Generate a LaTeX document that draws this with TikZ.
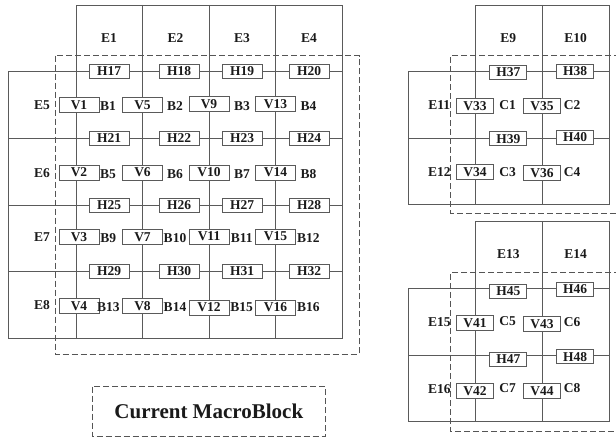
\documentclass[tikz,border=0pt]{standalone}
\usepackage{fontspec}
\setmainfont{Liberation Serif}
\definecolor{gridcol}{HTML}{5A5A5A}
\definecolor{dashcol}{HTML}{555555}
\definecolor{txtcol}{HTML}{1A1A1A}
\tikzset{
  gridline/.style={draw=gridcol, line width=0.9pt},
  dashline/.style={draw=dashcol, line width=0.9pt, dash pattern=on 6pt off 3pt},
  lbl/.style={font=\bfseries\fontsize{13.5}{16}\selectfont, text=txtcol, inner sep=0pt},
  hbox/.style={lbl, draw=gridcol, line width=0.9pt, fill=white, minimum width=40pt, minimum height=14pt},
  vbox/.style={lbl, draw=gridcol, line width=0.9pt, fill=white, minimum width=40pt, minimum height=15pt},
  shbox/.style={hbox, minimum width=37pt},
  svbox/.style={vbox, minimum width=37pt},
}
\begin{document}
\begin{tikzpicture}[x=1pt, y=-1pt]
\useasboundingbox (0,0) rectangle (616,438);
% ---------- big grid ----------
\draw[gridline] (76,5) rectangle (342,338);
\foreach \x in {142.5,209,275.5} \draw[gridline] (\x,5) -- (\x,338);
\foreach \y in {71,138,205,271.5} \draw[gridline] (8.5,\y) -- (342,\y);
\draw[gridline] (76,71) -- (8.5,71) -- (8.5,338) -- (76,338);
% dashed macroblock
\draw[dashline] (55,55.7) rectangle (359,354);
% E labels
\foreach \n/\x in {1/109,2/175.5,3/242,4/309} \node[lbl] (e\n) at (\x,38) {E\n};
\foreach \n/\y in {5/105,6/173,7/237.5,8/305} \node[lbl] (e\n) at (42,\y) {E\n};
% H boxes
\foreach \n/\x/\y in {17/109/71,18/179/71,19/242/71,20/309/71,
  21/109/138,22/179/138,23/242/138,24/309/138,
  25/109/205,26/179/205,27/242/205,28/309/205,
  29/109/271.5,30/179/271.5,31/242/271.5,32/309/271.5}
  \node[hbox] (h\n) at (\x,\y) {H\n};
% V boxes
\foreach \n/\x/\y in {1/79/105,2/79/172.5,3/79/237,4/79/306,
  5/142.5/105,6/142.5/172.5,7/142.5/237,8/142.5/306,
  9/209/104,10/209/172.5,11/209/236.5,12/209/307.5,
  13/275.5/104,14/275.5/172.5,15/275.5/236.5,16/275.5/307.5}
  \node[vbox] (v\n) at (\x,\y) {V\n};
% B labels
\foreach \n/\x/\y in {1/108/106,2/175/106,3/242/106,4/308.5/106,
  5/108/174,6/175/174,7/242/174,8/308.5/174,
  9/108.3/238,10/175/238,11/241.7/238,12/308.3/238,
  13/108.3/307.5,14/175/307.5,15/241.7/307.5,16/308.3/307.5}
  \node[lbl] (b\n) at (\x,\y) {B\n};
% legend
\draw[dashline] (92,386.7) rectangle (325.7,436);
\node[lbl, font=\bfseries\fontsize{21}{24}\selectfont] (legend) at (208.8,411.5) {Current MacroBlock};
% ---------- right top grid ----------
\draw[gridline] (475.7,5) rectangle (609,204.3);
\draw[gridline] (542.3,5) -- (542.3,204.3);
\foreach \y in {71,138.3} \draw[gridline] (408.3,\y) -- (609,\y);
\draw[gridline] (475.7,71) -- (408.3,71) -- (408.3,204.3) -- (475.7,204.3);
\draw[dashline] (620,55.7) -- (450.7,55.7) -- (450.7,213.3) -- (620,213.3);
\node[lbl] (e9) at (508.3,38) {E9};
\node[lbl] (e10) at (575.7,38) {E10};
\node[lbl] (e11) at (439.3,105) {E11};
\node[lbl] (e12) at (439.3,172) {E12};
\node[shbox] (h37) at (508.3,72.5) {H37};
\node[shbox] (h38) at (575,71.5) {H38};
\node[shbox] (h39) at (508.3,138.8) {H39};
\node[shbox] (h40) at (575,137.5) {H40};
\node[svbox] (v33) at (475,105.8) {V33};
\node[svbox] (v35) at (542,105.8) {V35};
\node[svbox] (v34) at (475,172.3) {V34};
\node[svbox] (v36) at (542,173) {V36};
\node[lbl] (c1) at (507.5,105.5) {C1};
\node[lbl] (c2) at (572,105.5) {C2};
\node[lbl] (c3) at (507.5,172) {C3};
\node[lbl] (c4) at (572,172) {C4};
% ---------- right bottom grid ----------
\draw[gridline] (475.7,221.7) rectangle (609,421.7);
\draw[gridline] (542.3,221.7) -- (542.3,421.7);
\foreach \y in {288.3,355.7} \draw[gridline] (408.3,\y) -- (609,\y);
\draw[gridline] (475.7,288.3) -- (408.3,288.3) -- (408.3,421.7) -- (475.7,421.7);
\draw[dashline] (620,272.3) -- (450.7,272.3) -- (450.7,431.7) -- (620,431.7);
\node[lbl] (e13) at (508.3,254) {E13};
\node[lbl] (e14) at (575.7,254) {E14};
\node[lbl] (e15) at (439.3,322) {E15};
\node[lbl] (e16) at (439.3,389.5) {E16};
\node[shbox] (h45) at (508.3,291) {H45};
\node[shbox] (h46) at (575,289) {H46};
\node[shbox] (h47) at (508.3,359.3) {H47};
\node[shbox] (h48) at (575,356.7) {H48};
\node[svbox] (v41) at (475,323.3) {V41};
\node[svbox] (v43) at (542,324.3) {V43};
\node[svbox] (v42) at (475,391) {V42};
\node[svbox] (v44) at (542,391) {V44};
\node[lbl] (c5) at (507.5,321) {C5};
\node[lbl] (c6) at (572,322) {C6};
\node[lbl] (c7) at (507.5,388) {C7};
\node[lbl] (c8) at (572,388) {C8};
\end{tikzpicture}
\end{document}
